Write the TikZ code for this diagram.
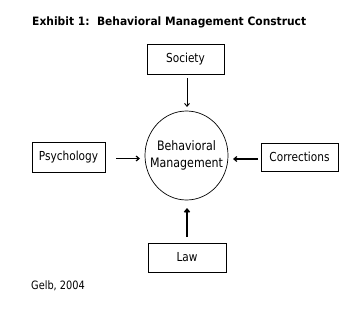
\documentclass[tikz,border=0pt]{standalone}
\usepackage{fontspec}
\setmainfont[FakeStretch=0.85]{DejaVu Sans}
\newfontfamily\titlefont[FakeStretch=0.93]{DejaVu Sans}
\usetikzlibrary{arrows.meta,shapes.geometric}
\begin{document}
\begin{tikzpicture}[x=1pt,y=-1pt,
  box/.style={draw,line width=0.8pt,minimum width=77pt,minimum height=29pt,inner sep=0pt,font=\fontsize{12.4}{14}\selectfont},
  conn/.style={-{Straight Barb[length=3pt,width=5pt]},line width=0.9pt}]
\useasboundingbox (0,0) rectangle (352,313);
\node[anchor=west,font=\titlefont\bfseries\fontsize{11.5}{13}\selectfont,inner sep=0pt] (title) at (32,22) {Exhibit 1:\ \ Behavioral Management Construct};
\node[box,minimum width=77pt,minimum height=30pt] (soc) at (185.5,59) {Society};
\node[box,minimum width=73pt,minimum height=30pt] (psy) at (68.5,157) {Psychology};
\node[box,minimum width=77pt,minimum height=28pt] (cor) at (299.5,157) {Corrections};
\node[box,minimum width=78pt,minimum height=29pt] (law) at (187,257.5) {Law};
\node[draw,ellipse,line width=0.7pt,minimum width=83pt,minimum height=89pt,inner sep=0pt] (bm) at (186.5,155.5) {};
\node[align=center,inner sep=0pt,font=\fontsize{13}{17}\selectfont] (bmtext) at (bm.center) {Behavioral\\Management};
\node[anchor=west,inner sep=0pt,font=\fontsize{11.5}{13}\selectfont] (gelb) at (31,286) {Gelb, 2004};
\coordinate (s1) at (187,78);
\coordinate (s2) at (187,107);
\draw[conn] (s1) -- (s2);
\coordinate (p1) at (116,158.5);
\coordinate (p2) at (140,158.5);
\draw[conn,line width=1.2pt] (p1) -- (p2);
\coordinate (c1) at (258,159);
\coordinate (c2) at (233,159);
\draw[conn,line width=1.2pt] (c1) -- (c2);
\coordinate (l1) at (187,237);
\coordinate (l2) at (187,208);
\draw[conn,line width=1.6pt] (l1) -- (l2);
\end{tikzpicture}
\end{document}
